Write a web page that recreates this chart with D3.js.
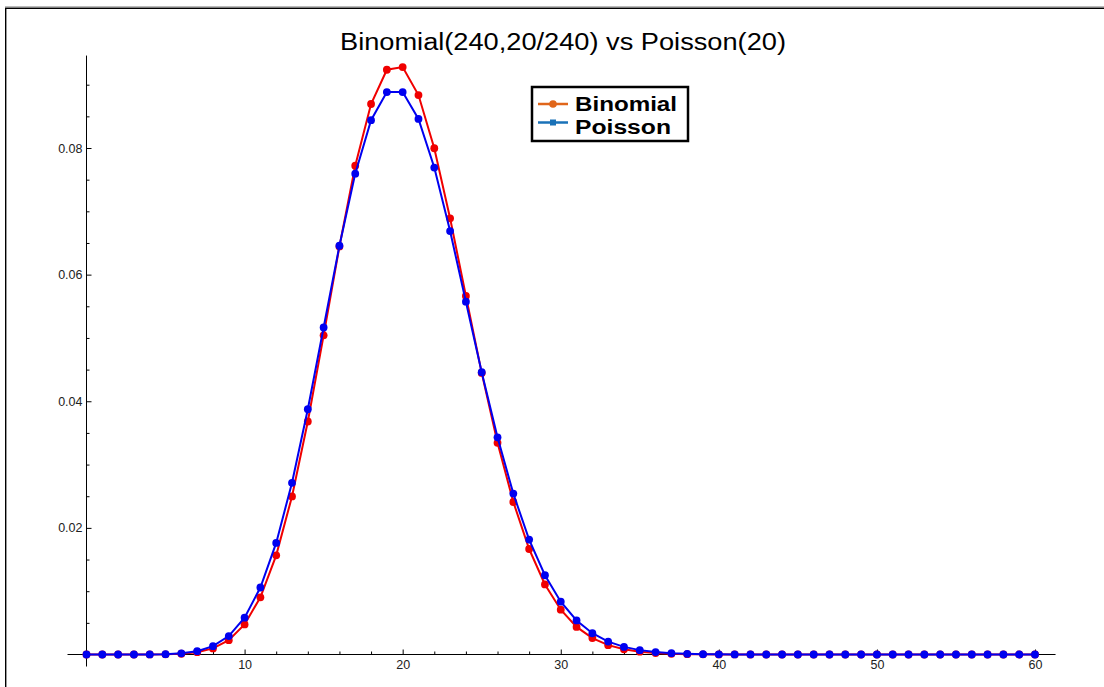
<!DOCTYPE html>
<html lang="en">
<head>
<meta charset="UTF-8">
<title>Binomial vs Poisson</title>
<script src="https://d3js.org/d3.v7.min.js"></script>
<style>
    body { margin: 0; padding: 0; background: #fff; }
    svg { display: block; font-family: 'Liberation Sans', Arial, sans-serif; }
    .tick text { font-size: 12.5px; fill: #222; }
    .tick line { stroke: #000; stroke-width: 1; }
</style>
</head>
<body>
<svg width="1104" height="687"></svg>
<script>
// P(X = k) for k = 0..60
const binomial = [0.0000000009, 0.00000002, 0.0000002, 0.0000015, 0.0000079, 0.0000337, 0.00012, 0.000365, 0.000965, 0.00226,
    0.00475, 0.00903, 0.01566, 0.02497, 0.0368, 0.05041, 0.06445, 0.0772, 0.08695, 0.09236,
    0.09278, 0.08836, 0.07996, 0.0689, 0.05663, 0.04448, 0.03344, 0.02409, 0.01666, 0.01107,
    0.00708, 0.00436, 0.00259, 0.00148, 0.00082, 0.00044, 0.00023, 0.000114, 0.000055, 0.000026,
    0.000012, 0.0000053, 0.0000023, 0.000001, 0.0000004, 0.0000002, 0.0000001, 0, 0, 0,
    0, 0, 0, 0, 0, 0, 0, 0, 0, 0, 0];
const poisson = [0.000000002, 0.00000004, 0.0000004, 0.0000027, 0.0000137, 0.000055, 0.000183, 0.000524, 0.00131, 0.00291,
    0.00582, 0.01058, 0.01763, 0.02712, 0.03874, 0.05165, 0.06456, 0.07595, 0.08439, 0.08883,
    0.08883, 0.0846, 0.07691, 0.06688, 0.05573, 0.04459, 0.0343, 0.02541, 0.01815, 0.01252,
    0.00834, 0.00538, 0.00336, 0.00204, 0.0012, 0.00069, 0.00038, 0.00021, 0.00011, 0.000056,
    0.000028, 0.0000136, 0.0000065, 0.000003, 0.0000014, 0.0000006, 0.0000003, 0.0000001, 0, 0,
    0, 0, 0, 0, 0, 0, 0, 0, 0, 0, 0];
const xTicks = [10, 20, 30, 40, 50, 60];
const xMinor = [2, 4, 6, 8, 12, 14, 16, 18, 22, 24, 26, 28, 32, 34, 36, 38, 42, 44, 46, 48, 52, 54, 56, 58];
const yTicks = [0.02, 0.04, 0.06, 0.08];
const yMinor = [0.005, 0.01, 0.015, 0.025, 0.03, 0.035, 0.045, 0.05, 0.055, 0.065, 0.07, 0.075, 0.085, 0.09];
const seriesNames = ["Binomial", "Poisson"];

const svg = d3.select("svg");

const x = d3.scaleLinear().domain([0, 60]).range([86.5, 1035]);
const y = d3.scaleLinear().domain([0, 0.08]).range([654.5, 148]);

// frame
svg.append("line").attr("x1", 5).attr("x2", 1104).attr("y1", 6.5).attr("y2", 6.5)
   .attr("stroke", "#bbb").attr("stroke-width", 1);
svg.append("path").attr("d", "M5.7,687V8.3H1104")
   .attr("fill", "none").attr("stroke", "#000").attr("stroke-width", 1.4);

// title
svg.append("text")
   .attr("x", 563).attr("y", 49.5)
   .attr("text-anchor", "middle")
   .attr("font-size", 23)
   .attr("textLength", 446).attr("lengthAdjust", "spacingAndGlyphs")
   .text("Binomial(240,20/240) vs Poisson(20)");

// axis lines
svg.append("line")
   .attr("x1", x(-1.2)).attr("x2", x(61.3)).attr("y1", y(0)).attr("y2", y(0))
   .attr("stroke", "#000").attr("stroke-width", 1);
svg.append("line")
   .attr("x1", x(0)).attr("x2", x(0)).attr("y1", y(0.0946)).attr("y2", y(0) + 12)
   .attr("stroke", "#000").attr("stroke-width", 1);

const xAxis = svg.append("g").attr("transform", `translate(0,${y(0)})`)
   .call(d3.axisBottom(x).tickValues(xTicks).tickSize(-5).tickPadding(6).tickFormat(d3.format("d")));
xAxis.select(".domain").remove();
const xAxisMinor = svg.append("g").attr("transform", `translate(0,${y(0)})`)
   .call(d3.axisBottom(x).tickValues(xMinor).tickSize(-3).tickFormat(""));
xAxisMinor.select(".domain").remove();

const yAxis = svg.append("g").attr("transform", `translate(${x(0)},0)`)
   .call(d3.axisLeft(y).tickValues(yTicks).tickSize(-5).tickPadding(4).tickFormat(d3.format(".2f")));
yAxis.select(".domain").remove();
const yAxisMinor = svg.append("g").attr("transform", `translate(${x(0)},0)`)
   .call(d3.axisLeft(y).tickValues(yMinor).tickSize(-3).tickFormat(""));
yAxisMinor.select(".domain").remove();

// series
const line = d3.line().x((d, i) => x(i)).y(d => y(d));
const series = [
    { name: "Binomial", values: binomial, color: "#f00000" },
    { name: "Poisson", values: poisson, color: "#0000f0" }
];

series.forEach(function(s) {
    svg.append("path")
       .datum(s.values)
       .attr("d", line)
       .attr("fill", "none")
       .attr("stroke", s.color)
       .attr("stroke-width", 2);
    svg.selectAll(".pt-" + s.name)
       .data(s.values)
       .enter()
       .append("circle")
       .attr("class", "pt-" + s.name)
       .attr("cx", (d, i) => x(i))
       .attr("cy", d => y(d))
       .attr("r", 3.9)
       .attr("fill", s.color);
});

// legend
const legendColors = ["#e0661a", "#1a72b8"];
const legend = svg.append("g");
legend.append("rect")
   .attr("x", 532).attr("y", 87)
   .attr("width", 156).attr("height", 54)
   .attr("fill", "#fff").attr("stroke", "#000").attr("stroke-width", 2.5);

seriesNames.forEach(function(name, i) {
    const ly = 104 + i * 18.5;
    legend.append("line")
       .attr("x1", 538).attr("x2", 568).attr("y1", ly).attr("y2", ly)
       .attr("stroke", legendColors[i]).attr("stroke-width", 2.5);
    if (i === 0) {
        legend.append("circle").attr("cx", 553).attr("cy", ly).attr("r", 3.8)
           .attr("fill", legendColors[i]);
    } else {
        legend.append("rect").attr("x", 550).attr("y", ly - 3).attr("width", 6).attr("height", 6)
           .attr("fill", legendColors[i]);
    }
    legend.append("text")
       .attr("x", 575).attr("y", 111 + i * 22.6)
       .attr("font-size", 20).attr("font-weight", "bold")
       .attr("textLength", i === 0 ? 102 : 96).attr("lengthAdjust", "spacingAndGlyphs")
       .text(name);
});
</script>
</body>
</html>
